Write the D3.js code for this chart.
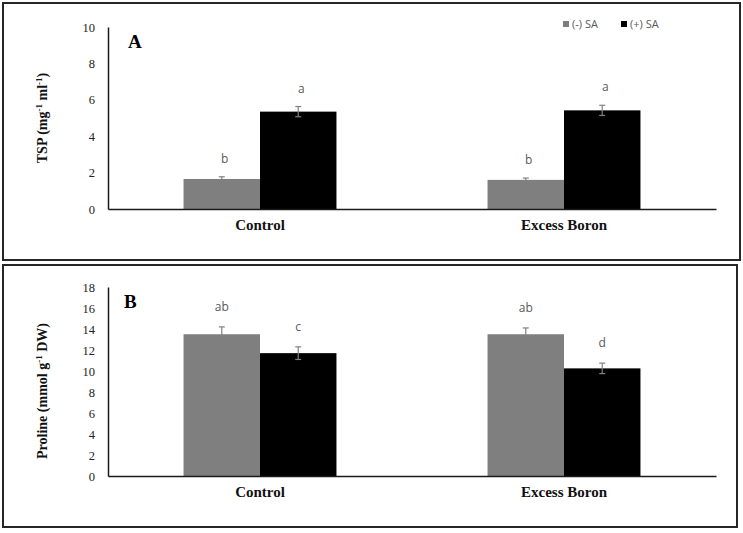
<!DOCTYPE html>
<html><head><meta charset="utf-8">
<script src="https://cdn.jsdelivr.net/npm/d3@7"></script>
<style>body{margin:0;background:#fff}svg{display:block}
.serif{font-family:'Liberation Serif','Times New Roman',serif}
.sans{font-family:'Open Sans','Liberation Sans',sans-serif}
</style>
</head><body>
<svg id="c" width="743" height="533"></svg>
<script>
const categories = ["Control", "Excess Boron"];
const seriesNames = ["(-) SA", "(+) SA"];
const seriesColors = ["#7f7f7f", "#000000"];

// Panel A: TSP
const tspMinus = [1.65, 1.6];
const tspPlus = [5.35, 5.42];
const tspErrMinus = [0.12, 0.1];
const tspErrPlus = [0.28, 0.28];
const tspLettersMinus = ["b", "b"];
const tspLettersPlus = ["a", "a"];
const tspTicks = [0, 2, 4, 6, 8, 10];

// Panel B: Proline
const proMinus = [13.5, 13.5];
const proPlus = [11.7, 10.25];
const proErrMinus = [0.7, 0.6];
const proErrPlus = [0.6, 0.5];
const proLettersMinus = ["ab", "ab"];
const proLettersPlus = ["c", "d"];
const proTicks = [0, 2, 4, 6, 8, 10, 12, 14, 16, 18];

const svg = d3.select("#c");

function panel(cfg) {
  const g = svg.append("g");
  g.append("rect").attr("x", cfg.box[0]).attr("y", cfg.box[1])
    .attr("width", cfg.box[2]).attr("height", cfg.box[3])
    .attr("fill", "none").attr("stroke", "#262626").attr("stroke-width", 2);

  const x0 = d3.scaleBand().domain(categories).range([cfg.left, cfg.right])
    .paddingInner(0.497).paddingOuter(0.2485);
  const x1 = d3.scaleBand().domain([0, 1]).range([0, x0.bandwidth()]);
  const y = d3.scaleLinear().domain([0, cfg.max]).range([cfg.bottom, cfg.top]);

  const rows = [];
  categories.forEach((c, i) => {
    [cfg.minus, cfg.plus].forEach((arr, s) => {
      rows.push({c, s, v: arr[i],
        e: (s === 0 ? cfg.errMinus : cfg.errPlus)[i],
        l: (s === 0 ? cfg.lMinus : cfg.lPlus)[i]});
    });
  });

  g.selectAll("rect.bar").data(rows).join("rect").attr("class", "bar")
    .attr("x", d => x0(d.c) + x1(d.s))
    .attr("width", x1.bandwidth())
    .attr("y", d => y(d.v))
    .attr("height", d => y(0) - y(d.v))
    .attr("fill", d => seriesColors[d.s]);

  const cx = d => x0(d.c) + x1(d.s) + x1.bandwidth() / 2;
  const eb = g.selectAll("g.err").data(rows).join("g").attr("class", "err")
    .attr("stroke", "#808080").attr("stroke-width", 1.2);
  eb.append("line").attr("x1", cx).attr("x2", cx)
    .attr("y1", d => y(d.v + d.e)).attr("y2", d => y(d.v - d.e));
  eb.append("line").attr("x1", d => cx(d) - 3).attr("x2", d => cx(d) + 3)
    .attr("y1", d => y(d.v + d.e)).attr("y2", d => y(d.v + d.e));
  eb.append("line").attr("x1", d => cx(d) - 3).attr("x2", d => cx(d) + 3)
    .attr("y1", d => y(d.v - d.e)).attr("y2", d => y(d.v - d.e))
    .attr("stroke", d => d.s === 1 ? "#808080" : "none");

  g.selectAll("text.lab").data(rows).join("text").attr("class", "lab sans")
    .attr("x", d => cx(d) + cfg.labDx)
    .attr("y", d => y(d.v + d.e) - cfg.labGap)
    .attr("text-anchor", "middle")
    .attr("font-size", 12)
    .attr("fill", "#595959").text(d => d.l);

  const ya = g.append("g").attr("transform", `translate(${cfg.left},0)`)
    .call(d3.axisLeft(y).tickValues(cfg.ticks).tickSize(0).tickPadding(13));
  ya.attr("font-family", null);
  ya.select(".domain").attr("stroke", "#1a1a1a").attr("stroke-width", 1.5);
  ya.selectAll("text").attr("class", "serif")
    .attr("font-size", 12.5).attr("fill", "#222");

  const xa = g.append("g").attr("transform", `translate(0,${cfg.bottom})`)
    .call(d3.axisBottom(x0).tickSize(0).tickPadding(10));
  xa.attr("font-family", null);
  xa.select(".domain").attr("stroke", "#1a1a1a").attr("stroke-width", 1.5);
  xa.selectAll("text").attr("class", "serif")
    .attr("font-size", 15).attr("font-weight", "bold").attr("fill", "#111");

  g.append("text").attr("class", "serif").attr("x", cfg.letterX).attr("y", cfg.top + 21)
    .attr("font-size", 19).attr("font-weight", "bold").text(cfg.letter);

  const t = g.append("text").attr("class", "serif")
    .attr("transform", `translate(${cfg.titleX},${cfg.titleY}) rotate(-90)`)
    .attr("text-anchor", "middle")
    .attr("font-size", 14).attr("font-weight", "bold").attr("fill", "#111");
  cfg.title.forEach(p => {
    const ts = t.append("tspan").text(p.t);
    if (p.sup) ts.attr("font-size", 9).attr("dy", -5);
    else if (p.after) ts.attr("dy", 5);
  });
  return g;
}

panel({box: [3, 3, 737, 257], left: 108, right: 716, top: 27, bottom: 209, max: 10,
  minus: tspMinus, plus: tspPlus, errMinus: tspErrMinus, errPlus: tspErrPlus,
  lMinus: tspLettersMinus, lPlus: tspLettersPlus, ticks: tspTicks, labDx: 3, labGap: 14,
  letter: "A", letterX: 128, titleX: 47, titleY: 118,
  title: [{t: "TSP (mg"}, {t: "-1", sup: true}, {t: " ml", after: true}, {t: "-1", sup: true}, {t: ")", after: true}]});

panel({box: [3, 265, 734, 262], left: 108, right: 716, top: 287, bottom: 476, max: 18,
  minus: proMinus, plus: proPlus, errMinus: proErrMinus, errPlus: proErrPlus,
  lMinus: proLettersMinus, lPlus: proLettersPlus, ticks: proTicks, labDx: 0, labGap: 16,
  letter: "B", letterX: 124, titleX: 47, titleY: 391,
  title: [{t: "Proline (mmol g"}, {t: "-1", sup: true}, {t: " DW)", after: true}]});

// Legend
const lg = svg.append("g");
const legX = [563, 621];
seriesNames.forEach((n, i) => {
  lg.append("rect").attr("x", legX[i]).attr("y", 21).attr("width", 6).attr("height", 6)
    .attr("fill", seriesColors[i]);
  lg.append("text").attr("class", "sans").attr("x", legX[i] + 9).attr("y", 28)
    .attr("font-size", 11)
    .attr("fill", "#595959").text(n);
});
</script>
</body></html>
